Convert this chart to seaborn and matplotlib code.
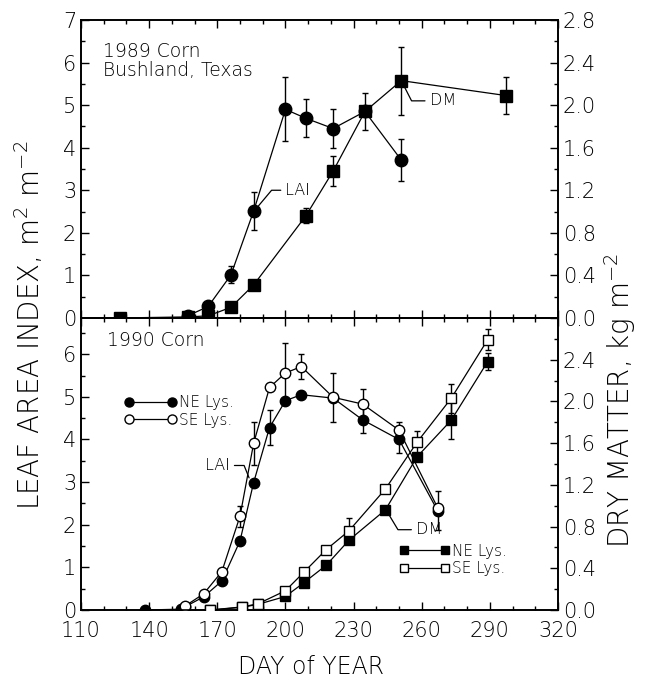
import numpy as np
import matplotlib
matplotlib.use("Agg")
import matplotlib.pyplot as plt
from matplotlib.lines import Line2D
import seaborn as sns

# 1989 corn, Bushland, Texas
day89_lai = [157, 166, 176, 186, 200, 209, 221, 235, 251]
lai89 = [0.05, 0.27, 1.01, 2.51, 4.90, 4.69, 4.45, 4.85, 3.71]
lai89_err = [0, 0, 0.2, 0.45, 0.75, 0.45, 0.45, 0.43, 0.5]
day89_dm = [127, 157, 166, 176, 186, 209, 221, 235, 251, 297]
dm89 = [0.0, 0.01, 0.02, 0.10, 0.31, 0.96, 1.38, 1.94, 2.23, 2.09]
dm89_err = [0, 0, 0, 0, 0, 0.07, 0.14, 0, 0.32, 0.17]

# 1990 corn, NE and SE lysimeters
day90_ne = [138, 154, 156, 164, 172, 180, 186, 193, 200, 207, 221, 234, 250, 267]
lai90_ne = [0.0, 0.02, 0.08, 0.31, 0.68, 1.62, 2.99, 4.28, 4.91, 5.05, 4.97, 4.46, 4.00, 2.33]
lai90_ne_err = [0, 0, 0, 0, 0, 0, 0, 0.4, 0, 0, 0, 0.31, 0.31, 0.45]
day90_se = [156, 164, 172, 180, 186, 193, 200, 207, 221, 234, 250, 267]
lai90_se = [0.10, 0.38, 0.90, 2.20, 3.91, 5.22, 5.56, 5.71, 4.99, 4.83, 4.22, 2.40]
lai90_se_err = [0, 0, 0, 0.25, 0.5, 0, 0.7, 0.3, 0.57, 0.35, 0.18, 0]
day90_dm = [167, 181, 188, 200, 208, 218, 228, 244, 258, 273, 289]
dm90_ne = [0.0, 0.026, 0.055, 0.13, 0.26, 0.43, 0.67, 0.96, 1.47, 1.82, 2.38]
dm90_se = [0.0, 0.03, 0.06, 0.185, 0.36, 0.58, 0.76, 1.16, 1.61, 2.03, 2.59]
dm90_ne_err = [0, 0, 0, 0, 0, 0, 0, 0, 0, 0.18, 0.08]
dm90_se_err = [0, 0, 0, 0, 0.04, 0, 0.12, 0, 0.11, 0.14, 0.10]

sns.set_style("ticks")
plt.rcParams["font.family"] = ["DejaVu Sans"]
plt.rcParams["font.weight"] = "light"
plt.rcParams["text.color"] = "black"
plt.rcParams["axes.edgecolor"] = "black"
plt.rcParams["xtick.color"] = "black"
plt.rcParams["ytick.color"] = "black"
plt.rcParams["mathtext.default"] = "regular"


def series(ax, x, y, marker, ms, filled):
    sns.lineplot(x=x, y=y, ax=ax, color="black", lw=0.9, marker=marker,
                 markersize=ms, mfc="black" if filled else "white",
                 mec="black", mew=1, zorder=3)


def bars(ax, x, y, e):
    x, y, e = np.array(x), np.array(y), np.array(e)
    m = e > 0
    ax.errorbar(x[m], y[m], yerr=e[m], fmt="none", ecolor="black",
                elinewidth=1, capsize=2.5, capthick=1, zorder=2)


def style_axes(ax, axr, ymax, rmax, lticks, rticks):
    ax.set_xlim(110, 320)
    ax.set_ylim(0, ymax)
    axr.set_ylim(0, rmax)
    ax.set_xticks(range(110, 321, 30))
    ax.set_xticks(range(110, 321, 10), minor=True)
    ax.set_yticks(lticks)
    ax.set_yticks(np.arange(0, ymax, 0.5), minor=True)
    axr.set_yticks(rticks)
    axr.set_yticklabels([f"{t:.1f}" for t in rticks])
    axr.set_yticks(np.arange(0, rmax, 0.2), minor=True)
    for a in (ax, axr):
        a.tick_params(which="both", direction="in", labelsize=15, width=1)
        a.tick_params(which="major", length=6)
        a.tick_params(which="minor", length=3)
        for s in a.spines.values():
            s.set_visible(True)
            s.set_linewidth(1.2)
    ax.tick_params(axis="x", which="both", top=True, bottom=True, pad=8)
    ax.tick_params(axis="y", which="both", left=True, right=False)
    axr.tick_params(axis="y", which="both", right=True, left=False)
    ax.set_xlabel("")
    ax.set_ylabel("")
    axr.set_ylabel("")


fig = plt.figure(figsize=(6.45, 6.79), dpi=100)
ax1 = fig.add_axes([0.1256, 0.5317, 0.7395, 0.4389])
ax2 = fig.add_axes([0.1256, 0.1016, 0.7395, 0.4301])
ax1r = ax1.twinx()
ax2r = ax2.twinx()

# top panel: 1989
bars(ax1, day89_lai, lai89, lai89_err)
series(ax1, day89_lai, lai89, "o", 9, True)
bars(ax1r, day89_dm, dm89, dm89_err)
series(ax1r, day89_dm, dm89, "s", 8.5, True)
style_axes(ax1, ax1r, 7, 2.8, range(0, 8), np.arange(0, 2.81, 0.4))
ax1.tick_params(axis="x", labelbottom=False)

ax1.text(0.046, 0.925, "1989 Corn\nBushland, Texas", transform=ax1.transAxes,
         ha="left", va="top", fontsize=13.5, linespacing=1.0)
leader = dict(arrowstyle="-", color="black", lw=0.9, shrinkA=1)
ax1.annotate("LAI", xy=(186.2, 2.51), xytext=(200, 3.0), ha="left", va="center",
             fontsize=11.5, arrowprops=dict(leader, shrinkB=5,
             connectionstyle="angle,angleA=0,angleB=50,rad=0"))
ax1r.annotate("DM", xy=(251, 2.23), xytext=(263.5, 2.04), ha="left", va="center",
              fontsize=11.5, arrowprops=dict(leader, shrinkB=5,
              connectionstyle="angle,angleA=0,angleB=-63,rad=0"))

# bottom panel: 1990
bars(ax2, day90_ne, lai90_ne, lai90_ne_err)
bars(ax2, day90_se, lai90_se, lai90_se_err)
series(ax2, day90_ne, lai90_ne, "o", 7.5, True)
series(ax2, day90_se, lai90_se, "o", 7.5, False)
bars(ax2r, day90_dm, dm90_ne, dm90_ne_err)
bars(ax2r, day90_dm, dm90_se, dm90_se_err)
series(ax2r, day90_dm, dm90_ne, "s", 7, True)
series(ax2r, day90_dm, dm90_se, "s", 7, False)
style_axes(ax2, ax2r, 6.85, 2.8, range(0, 7), np.arange(0, 2.41, 0.4))

ax2.text(0.055, 0.955, "1990 Corn", transform=ax2.transAxes,
         ha="left", va="top", fontsize=13.5)
ax2.annotate("LAI", xy=(184, 3.1), xytext=(175.5, 3.39), ha="right", va="center",
             fontsize=11.5, arrowprops=dict(leader, shrinkB=0,
             connectionstyle="angle,angleA=0,angleB=-68,rad=0"))
ax2r.annotate("DM", xy=(244.3, 0.96), xytext=(257.5, 0.77), ha="left", va="center",
              fontsize=11.5, arrowprops=dict(leader, shrinkB=4,
              connectionstyle="angle,angleA=0,angleB=-59,rad=0"))

lai_h = [Line2D([], [], color="black", lw=0.9, marker="o", ms=6.5, mfc=fc, mec="black")
         for fc in ("black", "white")]
ax2.legend(lai_h, ["NE Lys.", "SE Lys."], loc="center left", bbox_to_anchor=(0.092, 0.68),
           frameon=False, numpoints=2, handlelength=3.4, handletextpad=0.15,
           labelspacing=0.15, borderpad=0, borderaxespad=0, fontsize=11)
dm_h = [Line2D([], [], color="black", lw=0.9, marker="s", ms=6, mfc=fc, mec="black")
        for fc in ("black", "white")]
ax2r.legend(dm_h, ["NE Lys.", "SE Lys."], loc="center left", bbox_to_anchor=(0.668, 0.172),
            frameon=False, numpoints=2, handlelength=3.3, handletextpad=0.15,
            labelspacing=0.15, borderpad=0, borderaxespad=0, fontsize=11)

fig.text(0.483, 0.018, "DAY of YEAR", ha="center", va="center", fontsize=17)
fig.text(0.046, 0.521, "LEAF AREA INDEX, m$^{2}$ m$^{-2}$", rotation=90,
         ha="center", va="center", fontsize=20)
fig.text(0.962, 0.411, "DRY MATTER, kg m$^{-2}$", rotation=90,
         ha="center", va="center", fontsize=20)

fig.savefig("out.png", dpi=100, facecolor="white")
